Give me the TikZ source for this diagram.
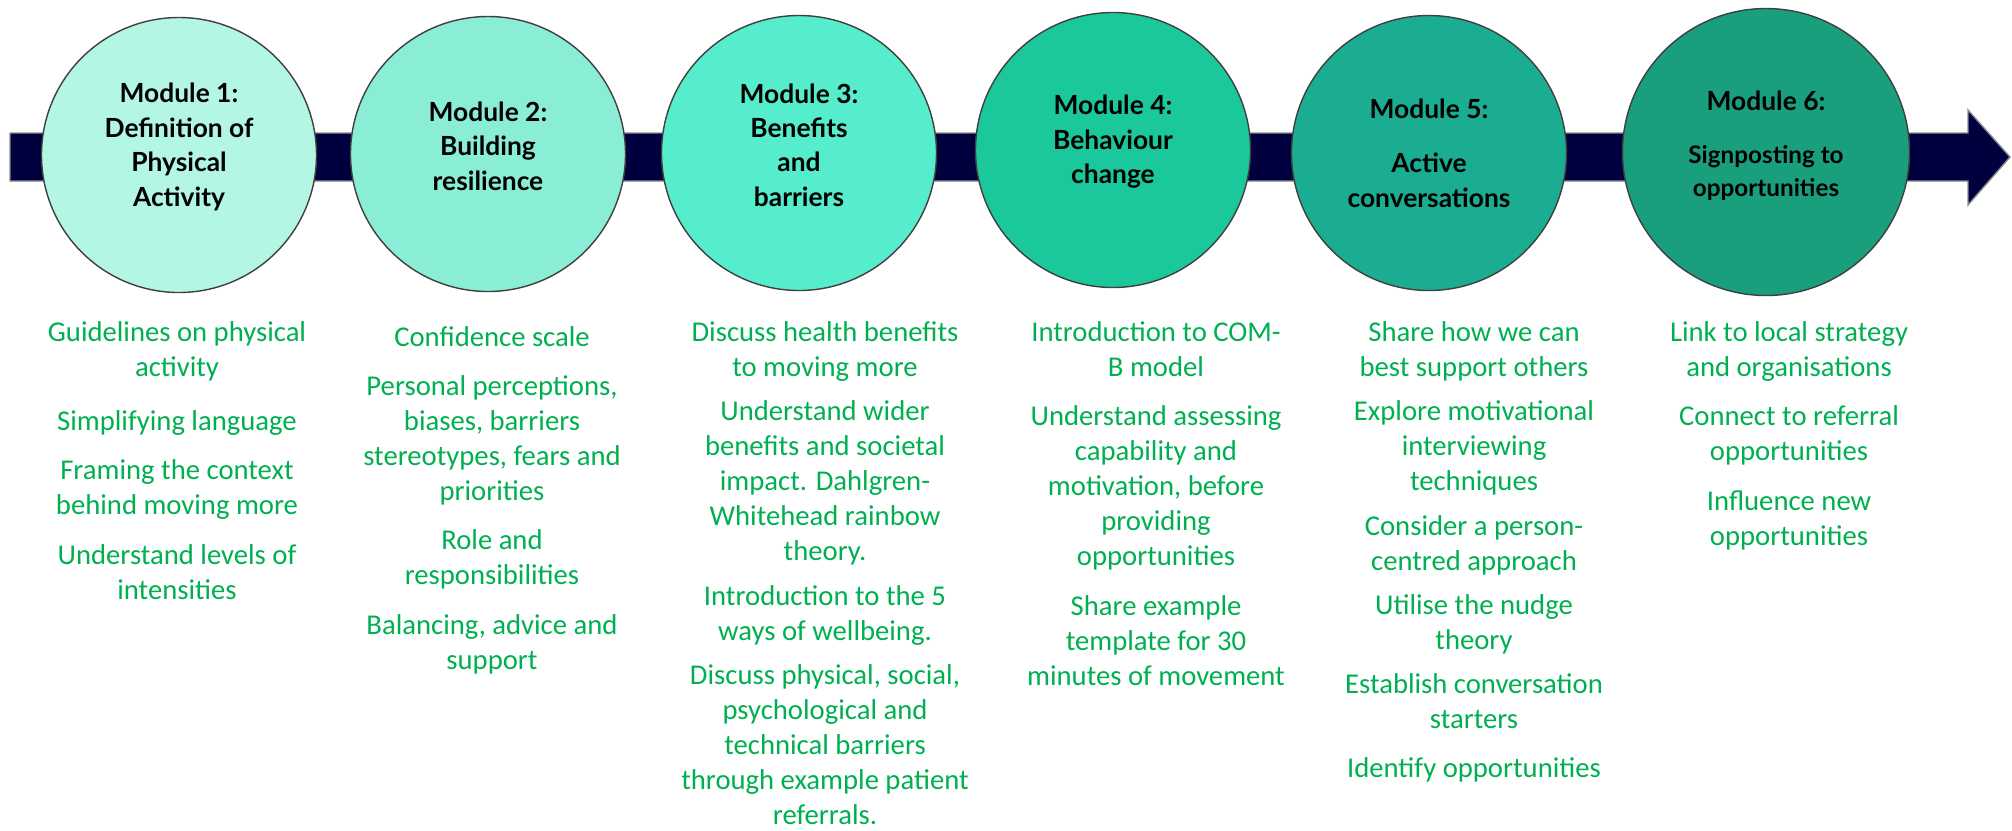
\documentclass[tikz,border=0pt]{standalone}
\usepackage{fontspec}
\setmainfont{Carlito}
\newfontfamily\titlefont{Lato}
\usetikzlibrary{positioning}

\definecolor{navy}{HTML}{01003F}
\definecolor{modone}{HTML}{B3F6E4}
\definecolor{modtwo}{HTML}{8AEDD6}
\definecolor{modthree}{HTML}{55EDCB}
\definecolor{modfour}{HTML}{1AC89B}
\definecolor{modfive}{HTML}{1BAD91}
\definecolor{modsix}{HTML}{199E7E}
\definecolor{itemgreen}{HTML}{00B050}

\tikzset{
    module/.style={circle, draw=black!75, line width=0.4pt, minimum size=2.75cm, inner sep=0pt},
    title/.style={align=center, inner sep=0pt, font=\titlefont\bfseries\fontsize{7.5pt}{9.8pt}\selectfont},
    item/.style={align=center, inner sep=0pt, text=itemgreen,
        font=\fontsize{8.16pt}{9.96pt}\selectfont,
        execute at begin node=\strut, execute at end node=\strut},
}
\newcommand{\subtitle}{\fontsize{6.9pt}{8.5pt}\selectfont}

\begin{document}
\begin{tikzpicture}
        \useasboundingbox (0, 0) rectangle (20.12, -8.30);

        % Timeline arrow behind the modules
        \filldraw[fill=navy, draw=black!45, line width=0.4pt]
            (0.10, -1.33) -- (19.68, -1.33) -- (19.68, -1.10) -- (20.10, -1.57)
            -- (19.68, -2.05) -- (19.68, -1.81) -- (0.10, -1.81) -- cycle;

        % Module 1: Definition of Physical Activity
        \node[module, fill=modone] (m1) at (1.79, -1.55) {};
        \node[title] (t1) at ([yshift=0.08cm]m1.center) {Module 1:\\Definition of\\Physical\\Activity};
        \begin{scope}[node distance=0.175cm]
            \node[item, anchor=north] (p1a) at (1.77, -3.21) {Guidelines on physical\\activity};
            \node[item, below=of p1a] (p1b) {Simplifying language};
            \node[item, below=of p1b] (p1c) {Framing the context\\behind moving more};
            \node[item, below=of p1c] (p1d) {Understand levels of\\intensities};
        \end{scope}

        % Module 2: Building resilience
        \node[module, fill=modtwo] (m2) at (4.88, -1.54) {};
        \node[title] (t2) at ([yshift=0.08cm]m2.center) {Module 2:\\Building\\resilience};
        \begin{scope}[node distance=0.175cm]
            \node[item, anchor=north] (p2a) at (4.92, -3.21) {Confidence scale};
            \node[item, below=of p2a] (p2b) {Personal perceptions,\\biases, barriers\\stereotypes, fears and\\priorities};
            \node[item, below=of p2b] (p2c) {Role and\\responsibilities};
            \node[item, below=of p2c] (p2d) {Balancing, advice and\\support};
        \end{scope}

        % Module 3: Benefits and barriers
        \node[module, fill=modthree] (m3) at (7.99, -1.53) {};
        \node[title] (t3) at ([yshift=0.08cm]m3.center) {Module 3:\\Benefits\\and\\barriers};
        \begin{scope}[node distance=0.125cm]
            \node[item, anchor=north] (p3a) at (8.25, -3.21) {Discuss health benefits\\to moving more};
            \node[item, below=of p3a] (p3b) {Understand wider\\benefits and societal\\impact. Dahlgren-\\Whitehead rainbow\\theory.};
            \node[item, below=of p3b] (p3c) {Introduction to the 5\\ways of wellbeing.};
            \node[item, below=of p3c] (p3d) {Discuss physical, social,\\psychological and\\technical barriers\\through example patient\\referrals.};
        \end{scope}

        % Module 4: Behaviour change
        \node[module, fill=modfour] (m4) at (11.13, -1.50) {};
        \node[title] (t4) at ([yshift=0.08cm]m4.center) {Module 4:\\Behaviour\\change};
        \begin{scope}[node distance=0.175cm]
            \node[item, anchor=north] (p4a) at (11.56, -3.21) {Introduction to COM-\\B model};
            \node[item, below=of p4a] (p4b) {Understand assessing\\capability and\\motivation, before\\providing\\opportunities};
            \node[item, below=of p4b] (p4c) {Share example\\template for 30\\minutes of movement};
        \end{scope}

        % Module 5: Active conversations
        \node[module, fill=modfive] (m5) at (14.29, -1.53) {};
        \node[title] (t5) at (m5.center) {Module 5:\\[0.2cm]Active\\conversations};
        \begin{scope}[node distance=0.125cm]
            \node[item, anchor=north] (p5a) at (14.74, -3.21) {Share how we can\\best support others};
            \node[item, below=of p5a] (p5b) {Explore motivational\\interviewing\\techniques};
            \node[item, below=of p5b] (p5c) {Consider a person-\\centred approach};
            \node[item, below=of p5c] (p5d) {Utilise the nudge\\theory};
            \node[item, below=of p5d] (p5e) {Establish conversation\\starters};
            \node[item, below=of p5e] (p5f) {Identify opportunities};
        \end{scope}

        % Module 6: Signposting to opportunities
        \node[module, fill=modsix, minimum size=2.87cm] (m6) at (17.66, -1.52) {};
        \node[title] (t6) at ([yshift=0.06cm]m6.center) {Module 6:\\[0.185cm]\subtitle Signposting to\\[-0.015cm]\subtitle opportunities};
        \begin{scope}[node distance=0.175cm]
            \node[item, anchor=north] (p6a) at (17.89, -3.21) {Link to local strategy\\and organisations};
            \node[item, below=of p6a] (p6b) {Connect to referral\\opportunities};
            \node[item, below=of p6b] (p6c) {Influence new\\opportunities};
        \end{scope}
    \end{tikzpicture}
\end{document}
